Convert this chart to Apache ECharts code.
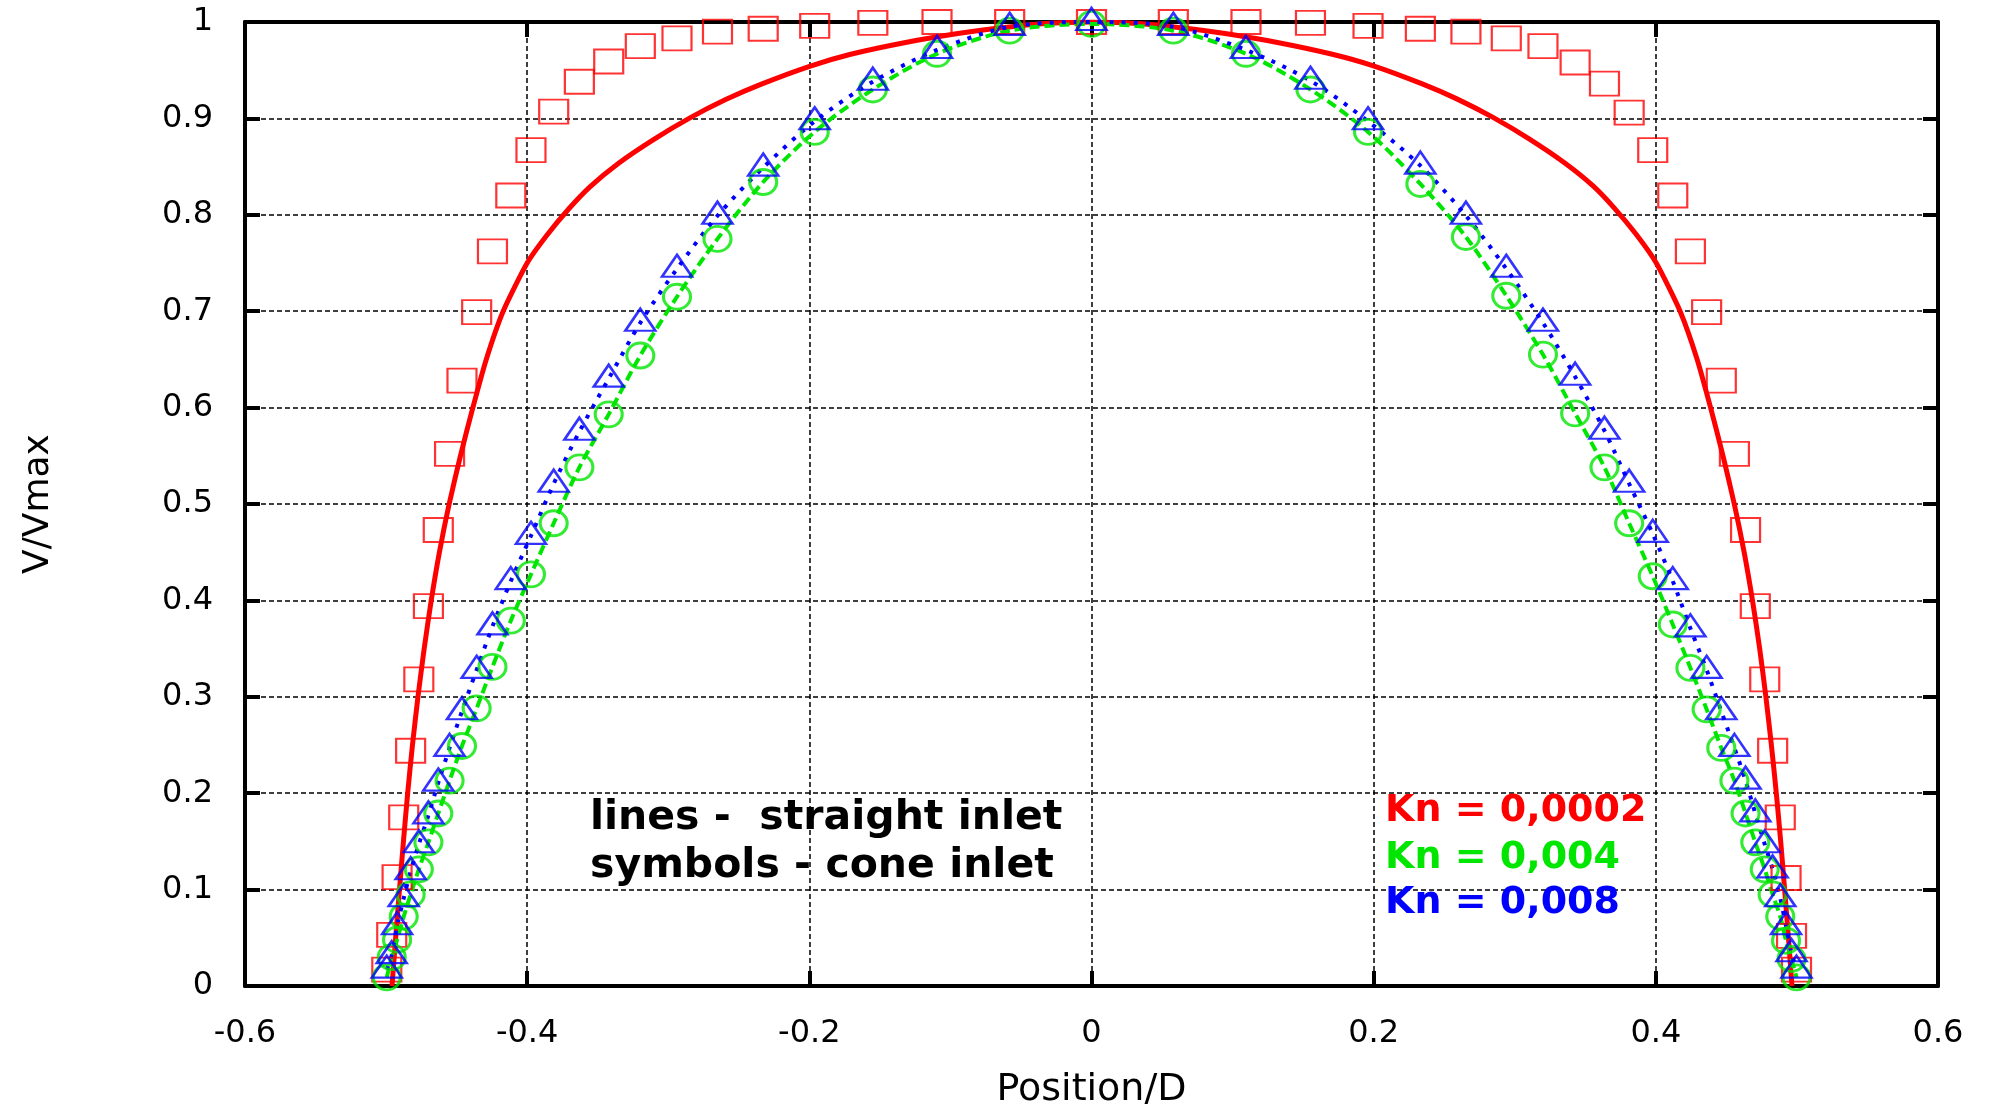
<!DOCTYPE html>
<html><head><meta charset="utf-8">
<script src="https://cdn.jsdelivr.net/npm/echarts@6/dist/echarts.min.js"></script>
<style>html,body{margin:0;padding:0;background:#fff}#c{width:1999px;height:1104px}</style>
</head><body><div id="c"></div>
<script>
// Radial positions (Position/D) of the computed points
const posD = [-0.4995, -0.4960, -0.4922, -0.4875, -0.4826, -0.4768, -0.4700, -0.4630, -0.4550, -0.4462,
  -0.4358, -0.4246, -0.4116, -0.3973, -0.3812, -0.3630, -0.3422, -0.3198, -0.2938, -0.2651,
  -0.2327, -0.1962, -0.1550, -0.1095, -0.0580, 0,
  0.0580, 0.1095, 0.1552, 0.1960, 0.2331, 0.2654, 0.2940, 0.3200, 0.3428, 0.3636,
  0.3811, 0.3978, 0.4120, 0.4245, 0.4360, 0.4464, 0.4557, 0.4636, 0.4705, 0.4772,
  0.4828, 0.4882, 0.4923, 0.4962, 0.4997];
// cone inlet, Kn = 0,0002 (red squares)
const kn0002Cone = [0.017, 0.053, 0.113, 0.175, 0.244, 0.318, 0.394, 0.473, 0.552, 0.628,
  0.699, 0.762, 0.820, 0.867, 0.907, 0.938, 0.959, 0.975, 0.983, 0.990,
  0.993, 0.996, 0.999, 1.0, 1.0, 1.0,
  1.0, 1.0, 0.999, 0.996, 0.993, 0.990, 0.983, 0.975, 0.958, 0.936,
  0.906, 0.867, 0.820, 0.762, 0.699, 0.628, 0.552, 0.473, 0.394, 0.318,
  0.244, 0.175, 0.112, 0.052, 0.017];
// Kn = 0,004 (green circles / dashed line)
const kn004 = [0.009, 0.030, 0.048, 0.072, 0.095, 0.121, 0.149, 0.179, 0.213, 0.249,
  0.288, 0.331, 0.379, 0.427, 0.480, 0.538, 0.593, 0.654, 0.715, 0.775,
  0.834, 0.886, 0.930, 0.967, 0.991, 0.998,
  0.991, 0.967, 0.930, 0.886, 0.832, 0.777, 0.716, 0.655, 0.594, 0.538,
  0.480, 0.425, 0.375, 0.330, 0.287, 0.247, 0.213, 0.179, 0.149, 0.121,
  0.095, 0.072, 0.047, 0.028, 0.009];
// Kn = 0,008 (blue triangles / dotted line)
const kn008 = [0.017, 0.032, 0.062, 0.091, 0.119, 0.147, 0.177, 0.211, 0.247, 0.285,
  0.328, 0.373, 0.420, 0.467, 0.521, 0.575, 0.630, 0.688, 0.744, 0.799,
  0.849, 0.897, 0.938, 0.971, 0.995, 1.0,
  0.995, 0.971, 0.939, 0.897, 0.851, 0.799, 0.744, 0.688, 0.632, 0.576,
  0.521, 0.469, 0.420, 0.371, 0.328, 0.285, 0.247, 0.213, 0.179, 0.147,
  0.121, 0.091, 0.062, 0.034, 0.017];
// straight inlet, Kn = 0,0002 (red solid line)
const redPos = [-0.4958, -0.4932, -0.4905, -0.4877, -0.4847, -0.4813, -0.4774, -0.4730, -0.4680, -0.4622,
  -0.4553, -0.4473, -0.4385, -0.4290, -0.4170, -0.4000, -0.3859, -0.3706, -0.3555, -0.3352,
  -0.3099, -0.2846, -0.2593, -0.2340, -0.1998, -0.1707, -0.1327, -0.0947, -0.0669, -0.0350, 0,
  0.0350, 0.0669, 0.0947, 0.1327, 0.1707, 0.1998, 0.2340, 0.2593, 0.2846, 0.3099,
  0.3352, 0.3555, 0.3706, 0.3859, 0.4003, 0.4172, 0.4293, 0.4388, 0.4476, 0.4556,
  0.4626, 0.4685, 0.4736, 0.4780, 0.4819, 0.4854, 0.4885, 0.4913, 0.4940, 0.4965];
const redVal = [0, 0.05, 0.10, 0.15, 0.20, 0.25, 0.30, 0.35, 0.40, 0.45,
  0.50, 0.55, 0.60, 0.65, 0.70, 0.750, 0.779, 0.806, 0.829, 0.8535,
  0.8785, 0.9005, 0.9195, 0.9355, 0.954, 0.9665, 0.9785, 0.988, 0.9935, 0.9982, 1.0,
  0.9982, 0.9935, 0.988, 0.9785, 0.9665, 0.9545, 0.936, 0.920, 0.901, 0.879,
  0.854, 0.830, 0.807, 0.780, 0.750, 0.70, 0.65, 0.60, 0.55, 0.50,
  0.45, 0.40, 0.35, 0.30, 0.25, 0.20, 0.15, 0.10, 0.05, 0];

const xTicks = {min: -0.6, max: 0.6, interval: 0.2};
const yTicks = {min: 0, max: 1, interval: 0.1};

const RED = '#ff0000', GREEN = '#00e600', BLUE = '#0000ff';
const FONT = 'DejaVu Sans';
function pairs(xs, ys) { return xs.map((x, i) => [x, ys[i]]); }

const chart = echarts.init(document.getElementById('c'), null, {renderer: 'canvas'});
const axisLine = {onZero: false, lineStyle: {color: '#000', width: 4}};
const axisTick = {inside: true, length: 15, lineStyle: {color: '#000', width: 4}};
const splitLine = {show: true, lineStyle: {color: '#000', width: 1.5, type: [5, 3]}};

chart.setOption({
  animation: false,
  backgroundColor: '#fff',
  grid: {left: 245, top: 22, width: 1693, height: 964, outerBoundsMode: 'none', containLabel: false},
  xAxis: [{
    type: 'value', position: 'bottom', min: xTicks.min, max: xTicks.max, interval: xTicks.interval,
    axisLine, axisTick, splitLine,
    axisLabel: {margin: 32, fontSize: 32, fontFamily: FONT, color: '#000'},
    name: 'Position/D', nameLocation: 'middle', nameGap: 85,
    nameTextStyle: {fontSize: 38, fontFamily: FONT, color: '#000'}
  }, {
    type: 'value', position: 'top', min: xTicks.min, max: xTicks.max, interval: xTicks.interval,
    axisLine, axisTick, splitLine: {show: false}, axisLabel: {show: false}
  }],
  yAxis: [{
    type: 'value', position: 'left', min: yTicks.min, max: yTicks.max, interval: yTicks.interval,
    axisLine, axisTick, splitLine,
    axisLabel: {margin: 32, fontSize: 32, fontFamily: FONT, color: '#000'},
    name: 'V/Vmax', nameLocation: 'middle', nameGap: 188,
    nameTextStyle: {fontSize: 36, fontFamily: FONT, color: '#000'}
  }, {
    type: 'value', position: 'right', min: yTicks.min, max: yTicks.max, interval: yTicks.interval,
    axisLine, axisTick, splitLine: {show: false}, axisLabel: {show: false}
  }],
  series: [
    {name: 'Kn=0,0002 straight', type: 'line', data: pairs(redPos, redVal), showSymbol: false,
     smooth: 0.2, lineStyle: {color: RED, width: 5}, z: 3},
    {name: 'Kn=0,004 straight', type: 'line', data: pairs(posD, kn004), showSymbol: false,
     smooth: 0.3, lineStyle: {color: GREEN, width: 4, type: [10, 5]}, z: 3},
    {name: 'Kn=0,008 straight', type: 'line', data: pairs(posD, kn008), showSymbol: false,
     smooth: 0.3, lineStyle: {color: BLUE, width: 4, type: [4, 8]}, z: 3},
    {name: 'Kn=0,0002 cone', type: 'scatter', data: pairs(posD, kn0002Cone), symbol: 'rect',
     symbolSize: [29, 24], clip: false,
     itemStyle: {color: 'rgba(0,0,0,0)', borderColor: RED, borderWidth: 2}, z: 4},
    {name: 'Kn=0,004 cone', type: 'scatter', data: pairs(posD, kn004), symbol: 'circle',
     symbolSize: [27, 25], clip: false,
     itemStyle: {color: 'rgba(0,0,0,0)', borderColor: GREEN, borderWidth: 3}, z: 4},
    {name: 'Kn=0,008 cone', type: 'scatter', data: pairs(posD, kn008), symbol: 'triangle',
     symbolSize: [30, 22], symbolOffset: [0, -3], clip: false,
     itemStyle: {color: 'rgba(0,0,0,0)', borderColor: BLUE, borderWidth: 2.5}, z: 5}
  ],
  graphic: [
    {type: 'text', x: 590, y: 818, z: 10, style: {text: 'lines -  straight inlet', fill: '#000',
      font: 'bold 41px "DejaVu Sans"', align: 'left', verticalAlign: 'middle'}},
    {type: 'text', x: 590, y: 866, z: 10, style: {text: 'symbols - cone inlet', fill: '#000',
      font: 'bold 41px "DejaVu Sans"', align: 'left', verticalAlign: 'middle'}},
    {type: 'text', x: 1385, y: 811, z: 10, style: {text: 'Kn = 0,0002', fill: RED,
      font: 'bold 38px "DejaVu Sans"', align: 'left', verticalAlign: 'middle'}},
    {type: 'text', x: 1385, y: 858, z: 10, style: {text: 'Kn = 0,004', fill: GREEN,
      font: 'bold 38px "DejaVu Sans"', align: 'left', verticalAlign: 'middle'}},
    {type: 'text', x: 1385, y: 903, z: 10, style: {text: 'Kn = 0,008', fill: BLUE,
      font: 'bold 38px "DejaVu Sans"', align: 'left', verticalAlign: 'middle'}}
  ]
});
</script></body></html>
